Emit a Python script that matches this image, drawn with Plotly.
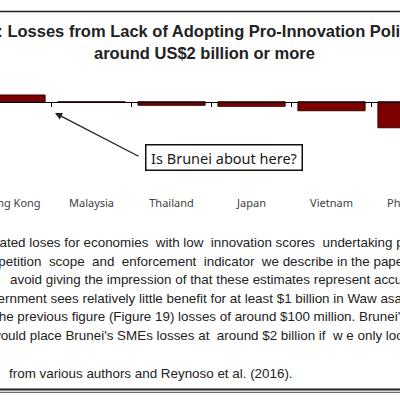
import plotly.graph_objects as go

# ---- data (values in US$ billion) ----
categories = ["Hong Kong", "Malaysia", "Thailand", "Japan", "Vietnam", "Philippines"]
losses = [0.52, -0.04, -0.27, -0.35, -0.69, -2.0]

title_line1 = "Figure 20: Losses from Lack of Adopting Pro-Innovation Policies Likely"
title_line2 = "around US$2 billion or more"
callout_text = "Is Brunei about here?"
body_lines = [
    "Estimated loses for economies  with low  innovation scores  undertaking pro-innovation reforms",
    "competition  scope  and  enforcement  indicator  we describe in the paper.",
    "avoid giving the impression of that these estimates represent accurate forecasts",
    "government sees relatively little benefit for at least $1 billion in Waw asan",
    "the previous figure (Figure 19) losses of around $100 million. Brunei's",
    "would place Brunei's SMEs losses at  around $2 billion if  w e only look",
    "from various authors and Reynoso et al. (2016).",
]

# ---- layout helpers (pixel geometry of the 400x400 page) ----
W, H = 400, 400
def py(p):
    return 1 - p / H

cat_px = 80.0          # pixels per category
first_center_px = 11.5  # centre of first category
x_range = [-first_center_px / cat_px, (W - first_center_px) / cat_px]

dom = [0.5, 0.85]
zero_px = 101.75
unit_px = 13.0
top_px, bot_px = H * (1 - dom[1]), H * (1 - dom[0])
y_range = [-(bot_px - zero_px) / unit_px, (zero_px - top_px) / unit_px]
zero_pos = dom[0] + (0 - y_range[0]) / (y_range[1] - y_range[0]) * (dom[1] - dom[0])

fig = go.Figure()
fig.add_trace(go.Bar(
    x=categories, y=losses,
    marker=dict(color="#7d0000", line=dict(color="#3a0000", width=1)),
    hoverinfo="skip",
))

tick_font = dict(family="Noto Sans", size=11, color="#404040")
body_font = dict(family="Liberation Sans", size=13.4, color="#222222")
title_font = dict(family="Liberation Sans", size=16.5, color="#222222")

ann = []
# title
ann.append(dict(xref="paper", yref="paper", x=0, y=py(31), xanchor="left", yanchor="middle",
                xshift=-78, text="<b>" + title_line1 + "</b>", showarrow=False, font=title_font))
ann.append(dict(xref="paper", yref="paper", x=205 / W, y=py(53), xanchor="center", yanchor="middle",
                text="<b>" + title_line2 + "</b>", showarrow=False, font=title_font))
# call-out box
ann.append(dict(xref="paper", yref="paper", x=223.5 / W, y=py(157.5), xanchor="center", yanchor="middle",
                text=callout_text, showarrow=False, width=151, height=20, borderpad=2,
                bordercolor="#111111", borderwidth=1.5, bgcolor="white",
                font=dict(family="Noto Sans", size=14.5, color="#1a1a1a")))
# arrow pointing to where Brunei would be
ann.append(dict(xref="x", yref="y", x=0.544, y=-0.865, ax=85, ay=44, text="",
                showarrow=True, arrowhead=2, arrowsize=1.1, arrowwidth=1.3, arrowcolor="#222222"))
# last category label (centre lies beyond the visible range)
ann.append(dict(xref="paper", yref="paper", x=1, y=py(202), xanchor="left", yanchor="middle",
                xshift=-15, text=categories[-1], showarrow=False, font=tick_font))
# body text
body_y = [242.5, 261, 279.5, 298, 316.5, 335, 373]
body_shift = [-35.5, -28.3, 9, -24.6, -6, -10.7, 8]
for t, yy, xs in zip(body_lines, body_y, body_shift):
    ann.append(dict(xref="paper", yref="paper", x=0, y=py(yy), xanchor="left", yanchor="middle",
                    xshift=xs, text=t, showarrow=False, font=body_font, borderpad=0))

shapes = [
    dict(type="line", xref="paper", yref="paper", x0=0, x1=1, y0=py(11.5), y1=py(11.5),
         line=dict(color="#222222", width=1.5)),
    dict(type="line", xref="paper", yref="paper", x0=0, x1=1, y0=py(389.5), y1=py(389.5),
         line=dict(color="#222222", width=1.8)),
    dict(type="line", xref="paper", yref="paper", x0=0, x1=1, y0=py(392.3), y1=py(392.3),
         line=dict(color="#444444", width=1)),
]

fig.update_layout(
    width=W, height=H,
    margin=dict(l=0, r=0, t=0, b=0, pad=0, autoexpand=False),
    paper_bgcolor="white", plot_bgcolor="white",
    showlegend=False, bargap=0.16,
    xaxis=dict(type="category", range=x_range, anchor="free", position=zero_pos,
               automargin=False,
               showline=True, linecolor="#000000", linewidth=1,
               ticks="outside", tickson="boundaries", ticklen=4, tickcolor="#000000", tickwidth=1,
               tickfont=tick_font, ticklabelstandoff=91, ticklabeloverflow="allow",
               showgrid=False, zeroline=False, fixedrange=True),
    yaxis=dict(domain=dom, range=y_range, visible=False, showgrid=False, zeroline=False,
               automargin=False, fixedrange=True),
    annotations=ann, shapes=shapes,
)

fig.write_html("out.html", config={"displayModeBar": False},
               post_script="document.body.style.margin='0px';")
